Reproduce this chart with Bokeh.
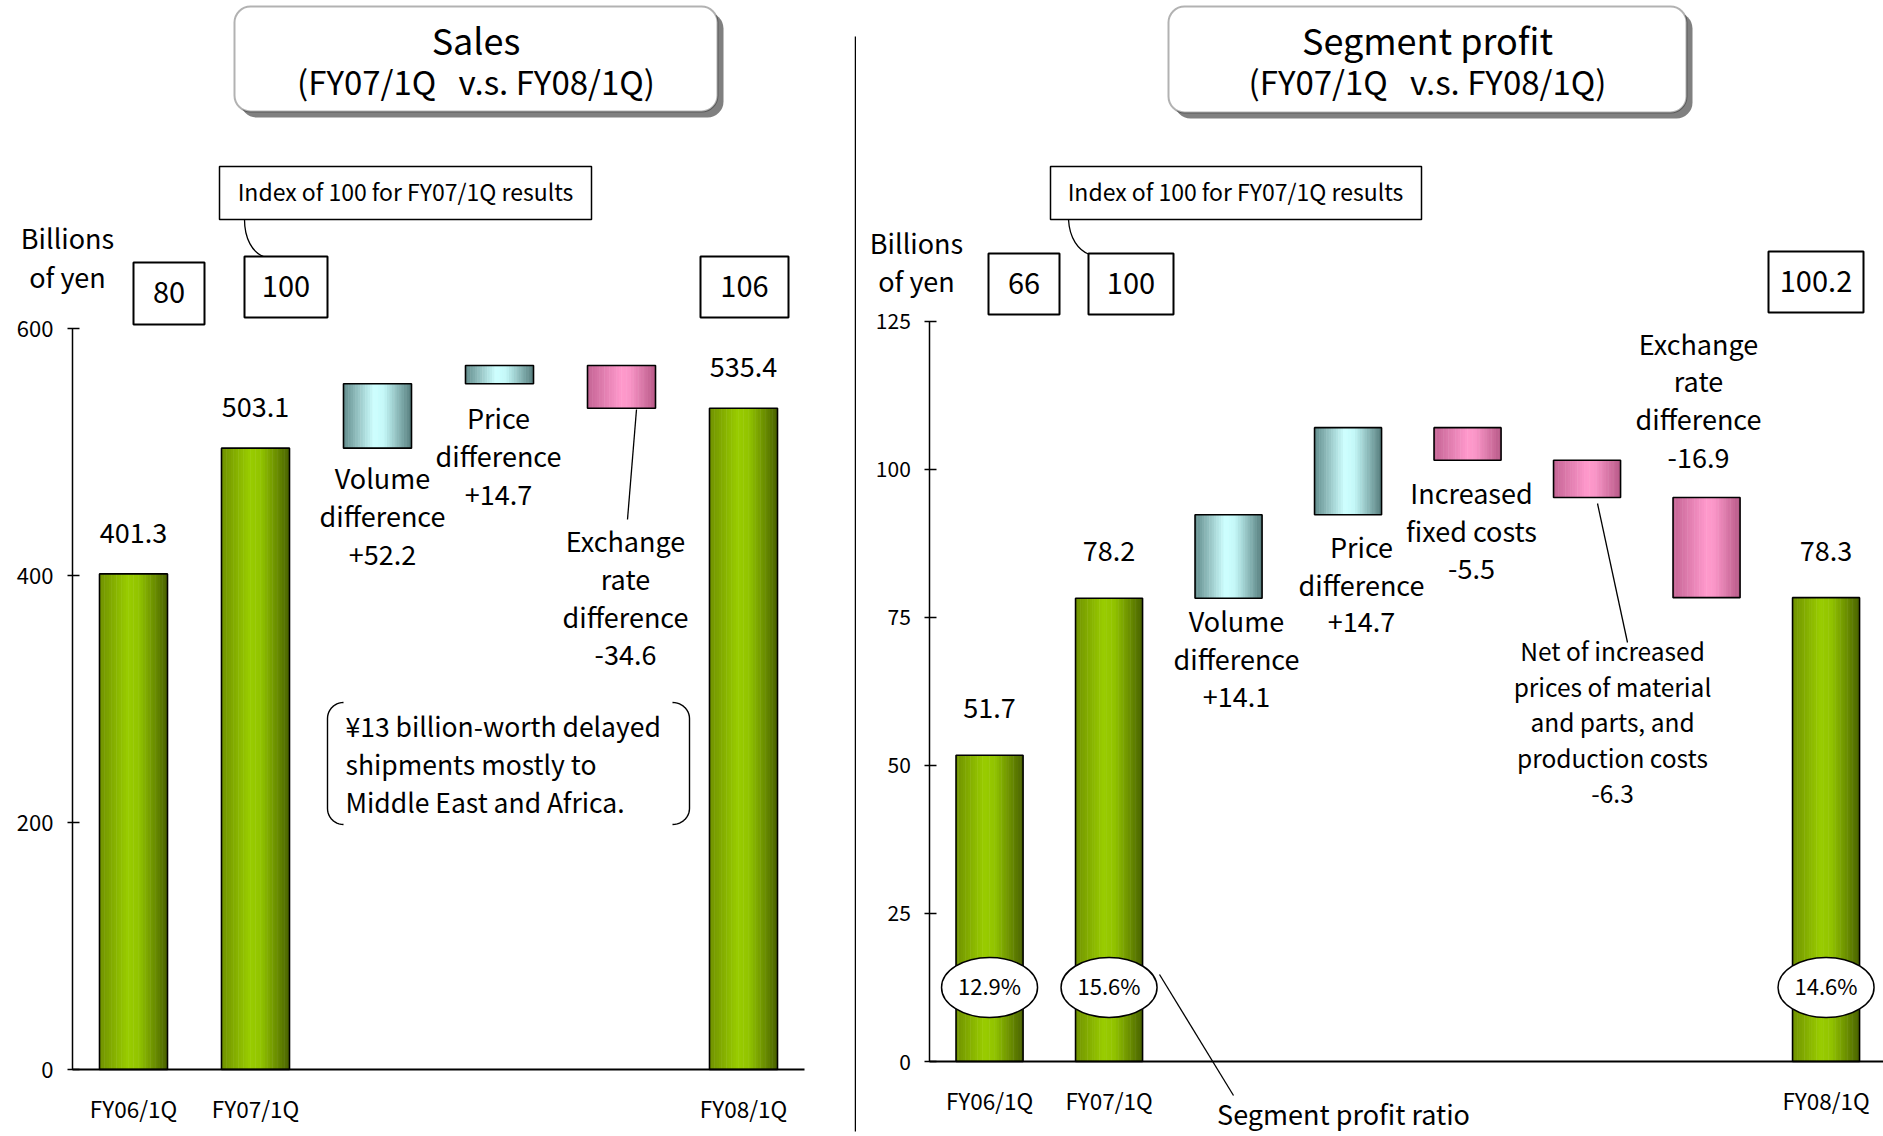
import numpy as np
from bokeh.plotting import figure
from bokeh.layouts import row
from bokeh.models import Range1d, LinearAxis, FixedTicker, BoxAnnotation
from bokeh.core.properties import value
from bokeh.embed import file_html
from bokeh.resources import INLINE

FONT = "Noto Sans CJK JP"
NB = "\u00a0"

# ---------------- data ----------------
sales_steps = ["FY06/1Q", "FY07/1Q", "Volume difference", "Price difference",
               "Exchange rate difference", "FY08/1Q"]
sales_is_total = [True, True, False, False, False, True]
sales_values = [401.3, 503.1, 52.2, 14.7, -34.6, 535.4]
sales_total_labels = ["401.3", "503.1", "535.4"]
sales_index = ["80", "100", "106"]
sales_ticks = [0, 200, 400, 600]

profit_steps = ["FY06/1Q", "FY07/1Q", "Volume difference", "Price difference",
                "Increased fixed costs",
                "Net of increased prices of material and parts, and production costs",
                "Exchange rate difference", "FY08/1Q"]
profit_is_total = [True, True, False, False, False, False, False, True]
profit_values = [51.7, 78.2, 14.1, 14.7, -5.5, -6.3, -16.9, 78.3]
profit_total_labels = ["51.7", "78.2", "78.3"]
profit_index = ["66", "100", "100.2"]
profit_ratio = ["12.9%", "15.6%", "14.6%"]
profit_ticks = [0, 25, 50, 75, 100, 125]

# ---------------- helpers ----------------
GREEN = [(0.0, (112, 145, 0)), (0.42, (153, 204, 0)), (0.58, (146, 196, 0)), (1.0, (74, 98, 0))]
CYAN = [(0.0, (98, 140, 140)), (0.45, (206, 255, 255)), (0.6, (196, 248, 248)), (1.0, (86, 126, 126))]
PINK = [(0.0, (196, 100, 148)), (0.5, (255, 153, 204)), (0.62, (250, 150, 200)), (1.0, (184, 90, 136))]


def grad(stops, t):
    for (t0, c0), (t1, c1) in zip(stops[:-1], stops[1:]):
        if t0 <= t <= t1:
            f = (t - t0) / (t1 - t0)
            c = [int(round(a + (b - a) * f)) for a, b in zip(c0, c1)]
            return "#%02x%02x%02x" % tuple(c)
    return "#%02x%02x%02x" % stops[-1][1]


def waterfall(vals, totals):
    bottoms, tops, kinds = [], [], []
    run = 0.0
    for v, t in zip(vals, totals):
        if t:
            b, tp = 0.0, v
            run = v
            kinds.append("total")
        else:
            b, tp = run, run + v
            run += v
            kinds.append("up" if v > 0 else "down")
        bottoms.append(min(b, tp))
        tops.append(max(b, tp))
    return bottoms, tops, kinds


def draw_bars(p, xs, bottoms, tops, kinds, width, n=28):
    sx, sb, st, sc = [], [], [], []
    for x, b, t, k in zip(xs, bottoms, tops, kinds):
        stops = GREEN if k == "total" else (CYAN if k == "up" else PINK)
        for i in range(n):
            f = (i + 0.5) / n
            sx.append(x - width / 2 + f * width)
            sb.append(b)
            st.append(t)
            sc.append(grad(stops, f))
    p.vbar(x=sx, width=width / n * 1.2, bottom=sb, top=st, fill_color=sc, line_color=None)
    p.vbar(x=xs, width=width, bottom=bottoms, top=tops, fill_color=None,
           line_color="black", line_width=1.6)


def txt(p, xs, ys, texts, size, align="center", baseline="middle"):
    p.text(x=xs, y=ys, text=texts, text_font=value(FONT), text_font_size=f"{size}px",
           text_align=align, text_baseline=baseline, text_color="black", y_offset=-2)


def lines_block(p, X, Y, xpx, ypx_list, lines, size, align="center"):
    txt(p, [X(xpx)] * len(lines), [Y(y) for y in ypx_list], lines, size, align)


def bracket_pts(x_tip, x_line, y_top, y_bot, r, n=12):
    th = np.linspace(0, np.pi / 2, n)
    xs = list(x_tip + (x_line - x_tip) * np.sin(th))
    ys = list(y_top + r * (1 - np.cos(th)))
    th2 = th[::-1]
    xs += list(x_tip + (x_line - x_tip) * np.sin(th2))
    ys += list(y_bot - r * (1 - np.cos(th2)))
    return xs, ys


def make_fig(width, X, Y, x0_page):
    p = figure(width=width, height=1136, output_backend="svg", toolbar_location=None,
               x_range=Range1d(X(x0_page), X(x0_page + width)),
               y_range=Range1d(Y(1136), Y(0)),
               x_axis_location=None, y_axis_location=None,
               min_border=0, min_border_left=0, min_border_right=0,
               min_border_top=0, min_border_bottom=0)
    p.outline_line_color = None
    p.xgrid.visible = False
    p.ygrid.visible = False
    p.background_fill_color = "white"
    p.border_fill_color = "white"
    return p


def add_axes(p, ticks, nslots, label_pos, labels, tick_size, cat_size, cat_standoff):
    ya = LinearAxis(fixed_location=0, bounds=(ticks[0], ticks[-1]),
                    ticker=FixedTicker(ticks=ticks),
                    major_tick_in=7, major_tick_out=5, minor_tick_in=0, minor_tick_out=0,
                    major_label_standoff=14,
                    major_label_text_font=FONT, major_label_text_font_size=f"{tick_size}px",
                    major_label_text_color="black", axis_line_color="black",
                    axis_line_width=1.5, major_tick_line_color="black", major_tick_line_width=1.5)
    p.add_layout(ya, "left")
    xa = LinearAxis(fixed_location=0, bounds=(0, nslots),
                    ticker=FixedTicker(ticks=label_pos),
                    major_label_overrides={k: v for k, v in zip(label_pos, labels)},
                    major_tick_in=0, major_tick_out=0, minor_tick_in=0, minor_tick_out=0,
                    major_label_standoff=cat_standoff,
                    major_label_text_font=FONT, major_label_text_font_size=f"{cat_size}px",
                    major_label_text_color="black", axis_line_color="black",
                    axis_line_width=2)
    p.add_layout(xa, "below")


def title_box(p, X, Y, l, r, t, b, line1, line2):
    sh = 6
    p.add_layout(BoxAnnotation(left=X(l + sh), right=X(r + sh), top=Y(t + sh), bottom=Y(b + sh),
                               fill_color="#808080", fill_alpha=1, line_color=None,
                               border_radius=16, level="underlay"))
    p.add_layout(BoxAnnotation(left=X(l), right=X(r), top=Y(t), bottom=Y(b),
                               fill_color="white", fill_alpha=1, line_color="black",
                               line_width=2, border_radius=16, level="underlay"))
    cx = (l + r) / 2
    txt(p, [X(cx)], [Y(t + 34)], [line1], 36)
    txt(p, [X(cx)], [Y(t + 76)], [line2], 33)


def boxes(p, X, Y, rects, texts, size):
    p.quad(left=[X(r[0]) for r in rects], right=[X(r[1]) for r in rects],
           top=[Y(r[2]) for r in rects], bottom=[Y(r[3]) for r in rects],
           fill_color="white", line_color="black", line_width=2)
    txt(p, [X((r[0] + r[1]) / 2) for r in rects], [Y((r[2] + r[3]) / 2 + 1) for r in rects],
        texts, size)


SUB = "(FY07/1Q" + NB * 3 + "v.s. FY08/1Q)"

# ================= LEFT: Sales =================
LX0, LSX, LY0, LSY = 72.0, 122.0, 1069.0, 741.0 / 600.0
LX = lambda px: (px - LX0) / LSX
LY = lambda py: (LY0 - py) / LSY

p1 = make_fig(856, LX, LY, 0)
sx = np.arange(len(sales_values)) + 0.5
sb, st, sk = waterfall(sales_values, sales_is_total)
draw_bars(p1, list(sx), sb, st, sk, 68 / LSX)
add_axes(p1, sales_ticks, len(sales_values),
         [float(x) for x, t in zip(sx, sales_is_total) if t],
         [s for s, t in zip(sales_steps, sales_is_total) if t], 22, 22.5, 22)

tot_x = [x for x, t in zip(sx, sales_is_total) if t]
tot_top = [v for v, t in zip(st, sales_is_total) if t]
txt(p1, tot_x, [v + 39 / LSY for v in tot_top], sales_total_labels, 27)

title_box(p1, LX, LY, 234, 717, 6, 111, "Sales", SUB)

# index callout
p1.quad(left=[LX(219)], right=[LX(591)], top=[LY(166)], bottom=[LY(219)],
        fill_color="white", line_color="black", line_width=1.5)
txt(p1, [LX(405)], [LY(192)], ["Index of 100 for FY07/1Q results"], 23)
p1.bezier(x0=[LX(244)], y0=[LY(219)], x1=[LX(263)], y1=[LY(256)],
          cx0=[LX(244)], cy0=[LY(238)], cx1=[LX(252)], cy1=[LY(252)],
          line_color="black", line_width=1.3)
boxes(p1, LX, LY, [(133, 204, 262, 324), (244, 327, 256, 317), (700, 788, 256, 317)],
      sales_index, 29)
lines_block(p1, LX, LY, 67, [239, 278], ["Billions", "of yen"], 27)

# step annotations
lines_block(p1, LX, LY, 382, [479, 517, 556], ["Volume", "difference", "+52.2"], 27)
lines_block(p1, LX, LY, 498, [419, 457, 496], ["Price", "difference", "+14.7"], 27)
lines_block(p1, LX, LY, 625, [542, 580, 618, 656], ["Exchange", "rate", "difference", "-34.6"], 27)
p1.segment(x0=[LX(636)], y0=[LY(409)], x1=[LX(627)], y1=[LY(519)], line_color="black", line_width=1.3)

# bracketed note
lines_block(p1, LX, LY, 345, [727, 765, 803],
            ["\u00a513 billion-worth delayed", "shipments mostly to", "Middle East and Africa."],
            26.5, align="left")
bx, by = bracket_pts(343, 327, 702, 824, 16)
p1.line([LX(v) for v in bx], [LY(v) for v in by], line_color="black", line_width=1.4)
bx, by = bracket_pts(672, 689, 702, 824, 16)
p1.line([LX(v) for v in bx], [LY(v) for v in by], line_color="black", line_width=1.4)

# divider
p1.segment(x0=[LX(855)], y0=[LY(36)], x1=[LX(855)], y1=[LY(1131)], line_color="black", line_width=1.5)

# ================= RIGHT: Segment profit =================
OFF = 856.0
RX0, RSX, RY0, RSY = 929.3, 119.5, 1061.0, 740.5 / 125.0
RX = lambda px: (px - RX0) / RSX
RY = lambda py: (RY0 - py) / RSY

p2 = make_fig(1027, RX, RY, OFF)
px_ = np.arange(len(profit_values)) + 0.5
pb, pt, pk = waterfall(profit_values, profit_is_total)
draw_bars(p2, list(px_), pb, pt, pk, 67 / RSX)
ptot_x = [float(x) for x, t in zip(px_, profit_is_total) if t]
add_axes(p2, profit_ticks, len(profit_values), ptot_x,
         [s for s, t in zip(profit_steps, profit_is_total) if t], 21, 22.5, 22)
ptot_top = [v for v, t in zip(pt, profit_is_total) if t]
txt(p2, ptot_x, [v + 45 / RSY for v in ptot_top], profit_total_labels, 27)

title_box(p2, RX, RY, 1168, 1686, 6, 112, "Segment profit", SUB)
p2.quad(left=[RX(1050)], right=[RX(1421)], top=[RY(166)], bottom=[RY(219)],
        fill_color="white", line_color="black", line_width=1.5)
txt(p2, [RX(1235)], [RY(192)], ["Index of 100 for FY07/1Q results"], 23)
p2.bezier(x0=[RX(1068)], y0=[RY(219)], x1=[RX(1089)], y1=[RY(254)],
          cx0=[RX(1069)], cy0=[RY(238)], cx1=[RX(1078)], cy1=[RY(250)],
          line_color="black", line_width=1.3)
boxes(p2, RX, RY, [(988, 1059, 253, 314), (1088, 1173, 253, 314), (1768, 1863, 251, 312)],
      profit_index, 29)
lines_block(p2, RX, RY, 916, [244, 282], ["Billions", "of yen"], 27)

lines_block(p2, RX, RY, 1236, [622, 660, 698], ["Volume", "difference", "+14.1"], 27)
lines_block(p2, RX, RY, 1361, [548, 586, 623], ["Price", "difference", "+14.7"], 27)
lines_block(p2, RX, RY, 1471, [494, 532, 570], ["Increased", "fixed costs", "-5.5"], 27)
lines_block(p2, RX, RY, 1612, [652, 688, 723, 759, 795],
            ["Net of increased", "prices of material", "and parts, and", "production costs", "-6.3"], 24.5)
lines_block(p2, RX, RY, 1698, [345, 382, 420, 459], ["Exchange", "rate", "difference", "-16.9"], 27)
p2.segment(x0=[RX(1597)], y0=[RY(503)], x1=[RX(1627)], y1=[RY(642)], line_color="black", line_width=1.3)

# profit ratio ellipses
ell_y = 12.5
p2.ellipse(x=ptot_x, y=[ell_y] * 3, width=96 / RSX, height=60 / RSY,
           fill_color="white", line_color="black", line_width=1.5)
txt(p2, ptot_x, [ell_y] * 3, profit_ratio, 22)
p2.segment(x0=[RX(1159)], y0=[RY(974)], x1=[RX(1233)], y1=[RY(1095)], line_color="black", line_width=1.3)
txt(p2, [RX(1343)], [RY(1115)], ["Segment profit ratio"], 27)

layout = row(p1, p2)
open("out.html", "w").write(file_html(layout, INLINE))
